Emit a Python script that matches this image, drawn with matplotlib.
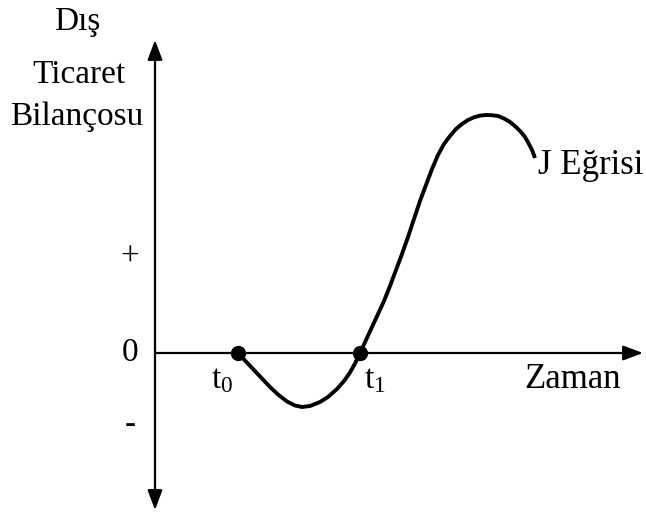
import matplotlib.pyplot as plt

plt.rcParams['font.family'] = ['Liberation Serif', 'DejaVu Serif']
plt.rcParams['mathtext.fontset'] = 'custom'
plt.rcParams['mathtext.rm'] = 'Liberation Serif'
plt.rcParams['mathtext.it'] = 'Liberation Serif'

# J egrisi: zaman (t) ve dis ticaret bilancosu (b), eksen kesisimi orijin
zaman = [8.3, 9.0, 9.8, 10.6, 11.5, 12.3, 13.2, 14.0, 14.7, 15.5, 16.5, 17.3,
         18.2, 18.9, 19.5, 20.0, 20.5,
         21.1, 21.7, 22.3, 22.9, 23.5, 24.1, 24.7, 25.3, 25.9, 26.5, 27.1,
         27.7, 28.3, 28.9, 29.5, 30.1, 30.7, 31.3, 31.9, 32.5, 33.1, 33.7,
         34.3, 34.9, 35.5, 36.1, 36.6, 37.0, 37.4, 37.7, 38.0]
bilanco = [0.0, -0.75, -1.6, -2.45, -3.4, -4.15, -4.85, -5.25, -5.4, -5.3,
           -4.9, -4.4, -3.6, -2.8, -1.95, -1.05, 0.0,
           1.3, 2.6, 3.9, 5.2, 6.7, 8.3, 9.9, 11.6, 13.4, 15.2, 16.8, 18.4,
           19.8, 20.9, 21.7, 22.4, 22.9, 23.3, 23.57, 23.74, 23.8, 23.78,
           23.7, 23.45, 23.1, 22.6, 22.1, 21.6, 20.9, 20.3, 19.5]
kesisim_t = [8.3, 20.5]
kesisim_etiket = ['t$_{\\rm 0}$', 't$_{\\rm 1}$']
etiket_t = [6.7, 22.0]
y_etiketleri = ['+', '0', '-']
y_konum = [9.6, 0.0, -7.2]

fig = plt.figure(figsize=(6.46, 5.12), dpi=100)
ax = fig.add_axes([0, 0, 1, 1])
ax.set_xlim(-15.5, 49.1)
ax.set_ylim(-15.9, 35.3)
ax.axis('off')

# eksenler (oklu)
ok = dict(arrowstyle='-|>,head_length=1.2,head_width=0.45', lw=1.6,
          color='black', shrinkA=0, shrinkB=0)
ax.annotate('', xy=(0, 31.3), xytext=(0, 0), arrowprops=ok)
ax.annotate('', xy=(0, -15.7), xytext=(0, 0), arrowprops=ok)
ax.annotate('', xy=(48.8, 0), xytext=(0, 0), arrowprops=ok)

# egri ve kesisim noktalari
ax.plot(zaman, bilanco, color='black', lw=2.8, solid_capstyle='butt',
        solid_joinstyle='round')
ax.plot(kesisim_t, [0, 0], 'o', color='black', ms=10)

fs = 24
for t, lab in zip(etiket_t, kesisim_etiket):
    ax.text(t, -2.7, lab, fontsize=fs, ha='center', va='center')
for pos, lab in zip(y_konum, y_etiketleri):
    ax.text(-2.5, pos, lab, fontsize=fs, ha='center', va='center')

ax.text(-7.8, 33.1, 'Dış', fontsize=fs, ha='center', va='center')
ax.text(-7.6, 27.8, 'Ticaret', fontsize=fs, ha='center', va='center')
ax.text(-7.8, 23.6, 'Bilançosu', fontsize=fs, ha='center', va='center')
ax.text(41.8, -2.7, 'Zaman', fontsize=25, ha='center', va='center')
ax.text(38.3, 18.8, 'J Eğrisi', fontsize=25, ha='left', va='center')

fig.savefig('out.png', dpi=100, facecolor='white')
